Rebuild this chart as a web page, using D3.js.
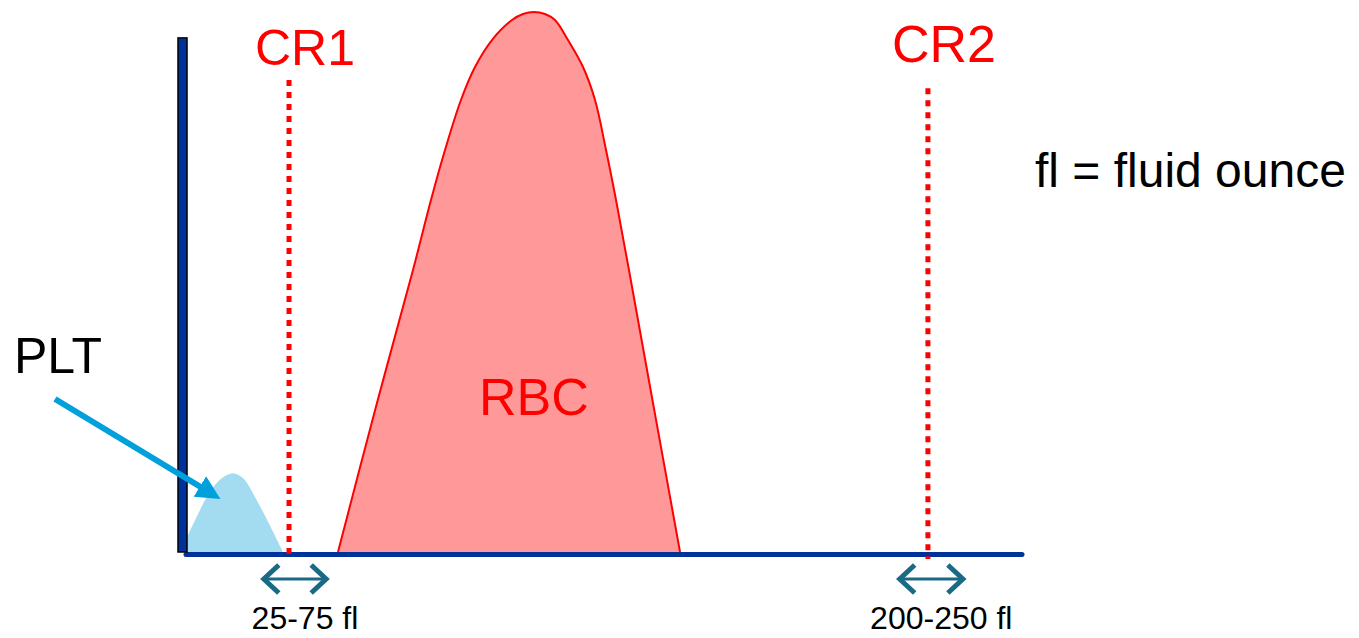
<meta charset="utf-8">
<style>
body { margin: 0; background: #fff; }
text { font-family: "Liberation Sans", Arial, sans-serif; }
</style>
<body>
<script src="https://d3js.org/d3.v7.min.js"></script>
<script>
// relative size channel (x) and relative count (y)
var pltCurve = [[0, 0.7], [1.55, 5.9], [3.33, 11.1], [4.76, 13.7], [6.07, 14.6],
                [7.26, 13.7], [8.69, 10.2], [10.24, 5.6], [11.9, 0.4]];
var rbcCurve = [[18.57, 0], [23.21, 27.59], [27.5, 52.22], [29.64, 65.19], [31.31, 74.44],
                [33.21, 83.7], [34.88, 89.81], [36.9, 94.81], [39.29, 98.52], [40.6, 99.63],
                [41.9, 100], [43.21, 99.63], [44.4, 98.52], [45.95, 94.81], [47.74, 89.81],
                [49.17, 83.7], [50.48, 74.44], [51.67, 65.19], [53.21, 52.22], [56.07, 27.59],
                [59.29, 0]];
var cutoffs = [{name: "CR1", x: 12.74, top: 87.4}, {name: "CR2", x: 88.8, top: 85.9}];
var ranges = [{label: "25-75 fl", from: 9.5, to: 17.4}, {label: "200-250 fl", from: 85.2, to: 93.2}];
var yTop = 95.2, xEnd = 100;

var width = 1359, height = 638;
var x = d3.scaleLinear().domain([0, 100]).range([182, 1022]);
var y = d3.scaleLinear().domain([0, 100]).range([552, 12]);

var svg = d3.select("body").append("svg")
    .attr("width", width)
    .attr("height", height);

var area = d3.area()
    .x(function(d) { return x(d[0]); })
    .y0(y(0))
    .y1(function(d) { return y(d[1]); })
    .curve(d3.curveCatmullRom);

var line = d3.line()
    .x(function(d) { return x(d[0]); })
    .y(function(d) { return y(d[1]); })
    .curve(d3.curveCatmullRom);

// RBC hump
svg.append("path")
    .datum(rbcCurve)
    .attr("d", area)
    .style("fill", "#ff9999");
svg.append("path")
    .datum(rbcCurve)
    .attr("d", line)
    .style("fill", "none")
    .style("stroke", "#ff0000")
    .style("stroke-width", 2);

// PLT hump
svg.append("path")
    .datum(pltCurve)
    .attr("d", area)
    .style("fill", "#a3dcf0");

// x axis line
svg.append("line")
    .attr("x1", x(0) + 4).attr("x2", x(xEnd))
    .attr("y1", y(0) + 2.5).attr("y2", y(0) + 2.5)
    .style("stroke", "#003399")
    .style("stroke-width", 5)
    .style("stroke-linecap", "round");

// y axis bar
svg.append("rect")
    .attr("x", x(0) - 4).attr("width", 9)
    .attr("y", y(yTop)).attr("height", y(0) - y(yTop))
    .style("fill", "#003399")
    .style("stroke", "#000")
    .style("stroke-width", 1.5);

// cutoff lines + labels
cutoffs.forEach(function(c) {
  svg.append("line")
      .attr("x1", x(c.x)).attr("x2", x(c.x))
      .attr("y1", y(c.top)).attr("y2", y(0) + 7)
      .style("stroke", "#ff0000")
      .style("stroke-width", 5)
      .style("stroke-dasharray", "6,6");
});
svg.append("text").attr("x", x(cutoffs[0].x) + 16).attr("y", 65)
    .attr("text-anchor", "middle").style("font-size", "50px").style("fill", "#ff0000")
    .text("CR1");
svg.append("text").attr("x", x(cutoffs[1].x) + 16).attr("y", 62)
    .attr("text-anchor", "middle").style("font-size", "52px").style("fill", "#ff0000")
    .text("CR2");

// range arrows
var ay = y(0) + 27;
ranges.forEach(function(r, i) {
  var x1 = x(r.from), x2 = x(r.to);
  svg.append("line")
      .attr("x1", x1 + 4).attr("x2", x2 - 4)
      .attr("y1", ay).attr("y2", ay)
      .style("stroke", "#1a6a86").style("stroke-width", 3);
  [[x1, 1], [x2, -1]].forEach(function(e) {
    svg.append("path")
        .attr("d", "M" + (e[0] + e[1] * 17) + "," + (ay - 14) +
                   "L" + (e[0] + e[1] * 2) + "," + ay +
                   "L" + (e[0] + e[1] * 17) + "," + (ay + 14))
        .style("fill", "none")
        .style("stroke", "#1a6a86")
        .style("stroke-width", 5)
        .style("stroke-linejoin", "miter");
  });
  svg.append("text")
      .attr("x", (x1 + x2) / 2 + 10)
      .attr("y", 629)
      .attr("text-anchor", "middle")
      .style("font-size", "32px")
      .style("fill", "#000")
      .text(r.label);
});

// PLT label + pointer arrow
svg.append("defs").append("marker")
    .attr("id", "head")
    .attr("viewBox", "0 0 10 10")
    .attr("refX", 2).attr("refY", 5)
    .attr("markerWidth", 4).attr("markerHeight", 4)
    .attr("orient", "auto")
  .append("path")
    .attr("d", "M0,0L10,5L0,10z")
    .style("fill", "#00a0dc");

svg.append("line")
    .attr("x1", 55).attr("y1", 399)
    .attr("x2", 204).attr("y2", 489)
    .style("stroke", "#00a0dc")
    .style("stroke-width", 6)
    .attr("marker-end", "url(#head)");

svg.append("text").attr("x", 14).attr("y", 373)
    .style("font-size", "50px").style("fill", "#000").text("PLT");

svg.append("text").attr("x", x(41.9)).attr("y", 415)
    .attr("text-anchor", "middle").style("font-size", "52px").style("fill", "#ff0000")
    .text("RBC");

svg.append("text").attr("x", 1035).attr("y", 187)
    .style("font-size", "48px").style("fill", "#000")
    .text("fl = fluid ounce");
</script>
</body>
